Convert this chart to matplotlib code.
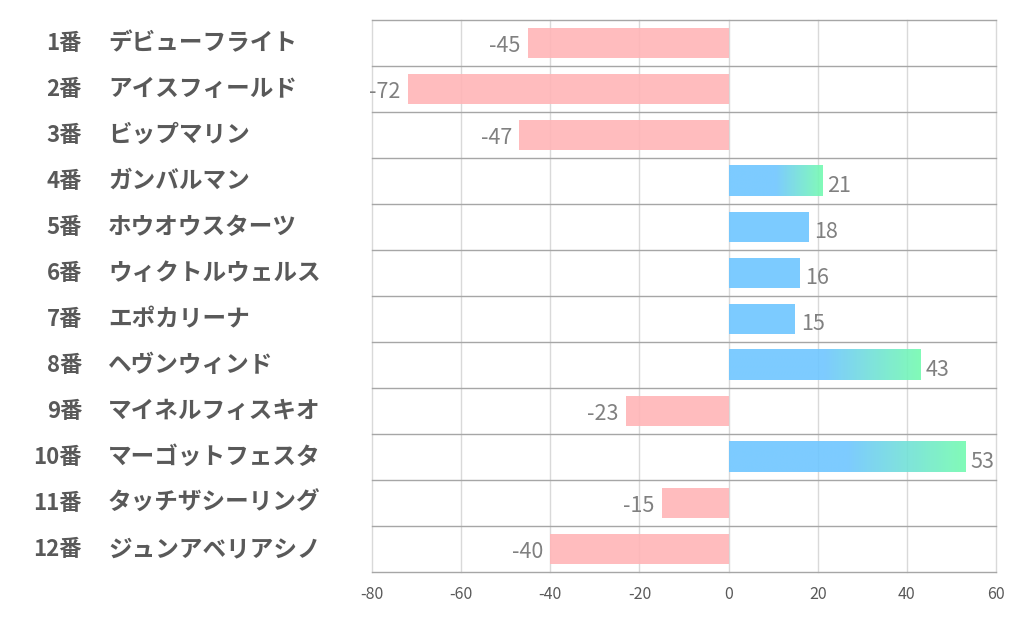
import matplotlib.pyplot as plt
import matplotlib.transforms as mtransforms
import numpy as np
from matplotlib.colors import to_rgb

plt.rcParams["font.family"] = ["Noto Sans CJK JP", "DejaVu Sans"]

numbers = ["1番", "2番", "3番", "4番", "5番", "6番",
           "7番", "8番", "9番", "10番", "11番", "12番"]
names = ["デビューフライト", "アイスフィールド", "ビップマリン", "ガンバルマン",
         "ホウオウスターツ", "ウィクトルウェルス", "エポカリーナ", "ヘヴンウィンド",
         "マイネルフィスキオ", "マーゴットフェスタ", "タッチザシーリング", "ジュンアベリアシノ"]
values = [-45, -72, -47, 21, 18, 16, 15, 43, -23, 53, -15, -40]
xticks = [-80, -60, -40, -20, 0, 20, 40, 60]

pink = "#FFB5B7"
blue = "#6EC6FF"
green = "#74FBB0"
bar_h = 0.67

fig = plt.figure(figsize=(10.22, 6.26), dpi=100)
ax = fig.add_axes([372 / 1022, 1 - 572 / 626, (996 - 372) / 1022, (572 - 20) / 626])

ax.set_xlim(-80, 60)
ax.set_ylim(len(values) - 0.5, -0.5)
ax.set_xticks(xticks)
ax.set_xticklabels([str(t) for t in xticks], color="#595959", fontsize=11.5)
ax.set_yticks([])
ax.tick_params(axis="x", length=0, pad=10)
for s in ax.spines.values():
    s.set_visible(False)
for t in xticks:
    ax.axvline(t, color="#D9D9D9", lw=1, zorder=0, clip_on=False)
for i in range(len(values) + 1):
    ax.axhline(i - 0.5, color="#A6A6A6", lw=1, zorder=0.5, clip_on=False)

# gradient for long positive bars
n = 256
t = np.linspace(0, 1, n)
b, g = np.array(to_rgb(blue)), np.array(to_rgb(green))
frac = np.clip((t - 0.5) / 0.5, 0, 1)[:, None]
grad = (b * (1 - frac) + g * frac)[None, :, :]

for i, v in enumerate(values):
    if v < 0:
        ax.barh(i, v, height=bar_h, color=pink, alpha=0.9, zorder=2)
        ax.text(v - 1.6, i + 0.06, str(v), ha="right", va="center",
                fontsize=15.5, color="#808080", zorder=3)
    else:
        if v > 20:
            ax.imshow(grad, extent=(0, v, i + bar_h / 2, i - bar_h / 2),
                      aspect="auto", alpha=0.9, zorder=2, interpolation="bilinear")
        else:
            ax.barh(i, v, height=bar_h, color=blue, alpha=0.9, zorder=2)
        ax.text(v + 1.2, i + 0.1, str(v), ha="left", va="center",
                fontsize=15.5, color="#808080", zorder=3)

ax.set_xlim(-80, 60)
ax.set_ylim(len(values) - 0.5, -0.5)

trans = mtransforms.blended_transform_factory(fig.transFigure, ax.transData)
for i, (num, name) in enumerate(zip(numbers, names)):
    ax.text(82 / 1022, i, num, transform=trans, ha="right", va="center",
            fontsize=16, fontweight="bold", color="#595959")
    ax.text(108 / 1022, i, name, transform=trans, ha="left", va="center",
            fontsize=17, fontweight="bold", color="#595959")

fig.savefig("out.png", dpi=100)
